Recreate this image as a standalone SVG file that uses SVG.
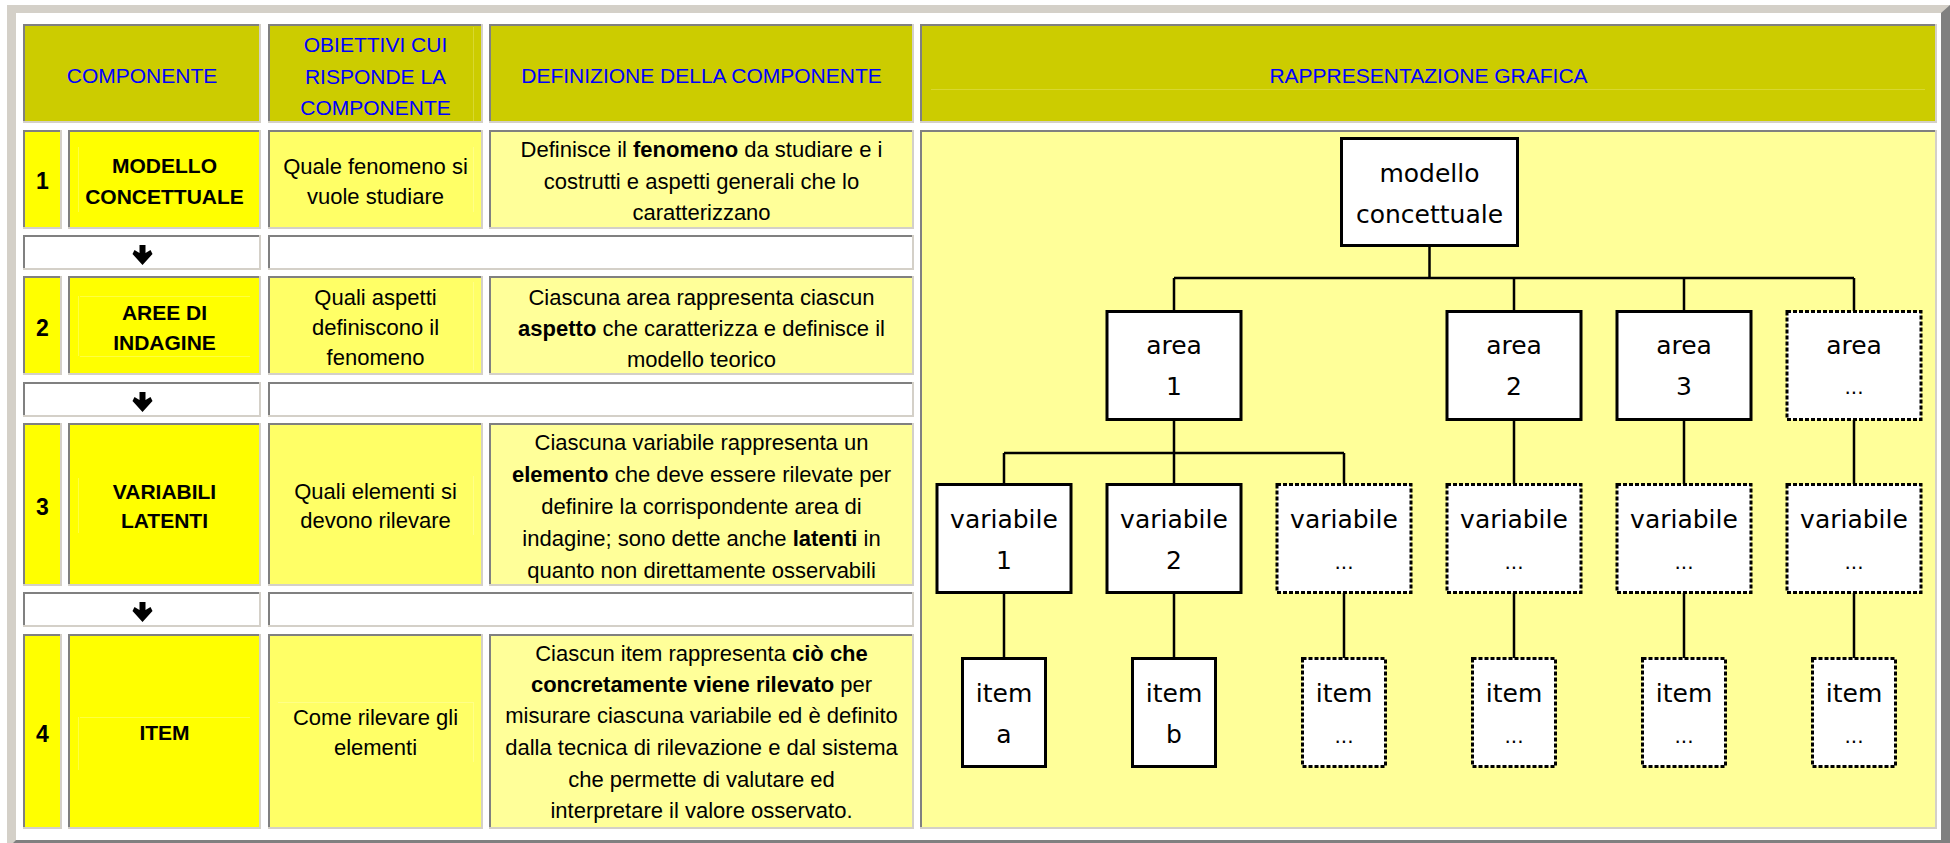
<svg xmlns="http://www.w3.org/2000/svg" width="1950" height="843" viewBox="0 0 1950 843">
  <defs>
    <style>
      .hd { font-family: "Liberation Sans", Arial, sans-serif; font-size: 21px; fill: #0000ff; text-anchor: middle; }
      .lb { font-family: "Liberation Sans", Arial, sans-serif; font-size: 21px; font-weight: bold; fill: #000; text-anchor: middle; }
      .nb { font-family: "Liberation Sans", Arial, sans-serif; font-size: 23px; font-weight: bold; fill: #000; text-anchor: middle; }
      .tx { font-family: "Liberation Sans", Arial, sans-serif; font-size: 22px; fill: #000; text-anchor: middle; }
      .tr { font-family: "DejaVu Sans", "Liberation Sans", sans-serif; font-size: 25px; fill: #000; text-anchor: middle; }
      .el { font-family: "DejaVu Sans", "Liberation Sans", sans-serif; font-size: 20px; fill: #000; text-anchor: middle; }
      .dk { stroke: #808080; stroke-width: 2; fill: none; }
      .lt { stroke: #d4d0c8; stroke-width: 2; fill: none; }
      .box { fill: #ffffff; stroke: #000; stroke-width: 3; }
      .dot { fill: #ffffff; stroke: #000; stroke-width: 3; stroke-dasharray: 4 2; }
      .cn { stroke: #000; stroke-width: 2.5; fill: none; }
      .fh { stroke: #d8d830; stroke-width: 1; fill: none; }
      .fy { stroke: #ffff40; stroke-width: 1; fill: none; }
      .fo { stroke: #ffff88; stroke-width: 1; fill: none; }
      .ar { fill: #000; }
    </style>
  </defs>

  <!-- outer raised frame -->
  <rect x="0" y="0" width="1950" height="843" fill="#ffffff"/>
  <rect x="7" y="5" width="1943" height="846" fill="#808080"/>
  <polygon points="7,5 1950,5 1941,13 16,13 16,840 7,849" fill="#d4d0c8"/>
  <rect x="16" y="13" width="1925" height="827" fill="#ffffff"/>

  <!-- header row -->
  <g id="header">
    <rect x="23" y="24" width="238" height="99" fill="#cccc00"/>
    <rect x="268" y="24" width="215" height="99" fill="#cccc00"/>
    <rect x="489" y="24" width="425" height="99" fill="#cccc00"/>
    <rect x="920" y="24" width="1017" height="99" fill="#cccc00"/>
    <path class="fh" d="M473.5,27 V121"/>
    <path class="fh" d="M931,89.5 H1925"/>
    <path class="dk" d="M24,123 V25 H261 M269,123 V25 H483 M490,123 V25 H914 M921,123 V25 H1937"/>
    <path class="lt" d="M260,24 V122 H23 M482,24 V122 H268 M913,24 V122 H489 M1936,24 V122 H920"/>
    <text class="hd" x="142" y="83">COMPONENTE</text>
    <text class="hd" x="375.5" y="52">OBIETTIVI CUI</text>
    <text class="hd" x="375.5" y="83.5">RISPONDE LA</text>
    <text class="hd" x="375.5" y="115">COMPONENTE</text>
    <text class="hd" x="701.5" y="83">DEFINIZIONE DELLA COMPONENTE</text>
    <text class="hd" x="1428.5" y="83">RAPPRESENTAZIONE GRAFICA</text>
  </g>

  <!-- row 1: modello concettuale -->
  <g id="row-1">
    <rect x="23" y="130" width="39" height="99" fill="#ffff00"/>
    <rect x="68" y="130" width="193" height="99" fill="#ffff00"/>
    <rect x="268" y="130" width="215" height="99" fill="#ffff66"/>
    <rect x="489" y="130" width="425" height="99" fill="#ffff99"/>
    <path class="fy" d="M78.5,147 V212"/>
    <path class="fo" d="M473.5,147 V212"/>
    <path class="dk" d="M24,229 V131 H62 M69,229 V131 H261 M269,229 V131 H483 M490,229 V131 H914"/>
    <path class="lt" d="M61,130 V228 H23 M260,130 V228 H68 M482,130 V228 H268 M913,130 V228 H489"/>
    <text class="nb" x="42.5" y="189">1</text>
    <text class="lb" x="164.5" y="173">MODELLO</text>
    <text class="lb" x="164.5" y="204">CONCETTUALE</text>
    <text class="tx" x="375.5" y="174">Quale fenomeno si</text>
    <text class="tx" x="375.5" y="204">vuole studiare</text>
    <text class="tx" x="701.5" y="157">Definisce il <tspan font-weight="bold">fenomeno</tspan> da studiare e i</text>
    <text class="tx" x="701.5" y="188.5">costrutti e aspetti generali che lo</text>
    <text class="tx" x="701.5" y="220">caratterizzano</text>
  </g>

  <!-- step arrow 1 -->
  <g id="step-1">
    <rect x="23" y="235" width="238" height="35" fill="#ffffff"/>
    <rect x="268" y="235" width="646" height="35" fill="#ffffff"/>
    <path class="dk" d="M24,270 V236 H261 M269,270 V236 H914"/>
    <path class="lt" d="M260,235 V269 H23 M913,235 V269 H268"/>
    <polygon class="ar" transform="translate(142.5,245)" points="-3,0 3,0 3,8 8,5 10,9 0,20 -10,9 -8,5 -3,8"/>
  </g>

  <!-- row 2: aree di indagine -->
  <g id="row-2">
    <rect x="23" y="276" width="39" height="99" fill="#ffff00"/>
    <rect x="68" y="276" width="193" height="99" fill="#ffff00"/>
    <rect x="268" y="276" width="215" height="99" fill="#ffff66"/>
    <rect x="489" y="276" width="425" height="99" fill="#ffff99"/>
    <path class="fy" d="M78.5,296 V356 M80,296.5 H250 M80,356.5 H250"/>
    <path class="fo" d="M473.5,282 V370"/>
    <path class="dk" d="M24,375 V277 H62 M69,375 V277 H261 M269,375 V277 H483 M490,375 V277 H914"/>
    <path class="lt" d="M61,276 V374 H23 M260,276 V374 H68 M482,276 V374 H268 M913,276 V374 H489"/>
    <text class="nb" x="42.5" y="336">2</text>
    <text class="lb" x="164.5" y="320">AREE DI</text>
    <text class="lb" x="164.5" y="350">INDAGINE</text>
    <text class="tx" x="375.5" y="305">Quali aspetti</text>
    <text class="tx" x="375.5" y="335">definiscono il</text>
    <text class="tx" x="375.5" y="365">fenomeno</text>
    <text class="tx" x="701.5" y="305">Ciascuna area rappresenta ciascun</text>
    <text class="tx" x="701.5" y="336"><tspan font-weight="bold">aspetto</tspan> che caratterizza e definisce il</text>
    <text class="tx" x="701.5" y="367">modello teorico</text>
  </g>

  <!-- step arrow 2 -->
  <g id="step-2">
    <rect x="23" y="382" width="238" height="35" fill="#ffffff"/>
    <rect x="268" y="382" width="646" height="35" fill="#ffffff"/>
    <path class="dk" d="M24,417 V383 H261 M269,417 V383 H914"/>
    <path class="lt" d="M260,382 V416 H23 M913,382 V416 H268"/>
    <polygon class="ar" transform="translate(142.5,392)" points="-3,0 3,0 3,8 8,5 10,9 0,20 -10,9 -8,5 -3,8"/>
  </g>

  <!-- row 3: variabili latenti -->
  <g id="row-3">
    <rect x="23" y="423" width="39" height="163" fill="#ffff00"/>
    <rect x="68" y="423" width="193" height="163" fill="#ffff00"/>
    <rect x="268" y="423" width="215" height="163" fill="#ffff66"/>
    <rect x="489" y="423" width="425" height="163" fill="#ffff99"/>
    <path class="fy" d="M78.5,478 V533"/>
    <path class="fo" d="M473.5,476 V535"/>
    <path class="dk" d="M24,586 V424 H62 M69,586 V424 H261 M269,586 V424 H483 M490,586 V424 H914"/>
    <path class="lt" d="M61,423 V585 H23 M260,423 V585 H68 M482,423 V585 H268 M913,423 V585 H489"/>
    <text class="nb" x="42.5" y="515">3</text>
    <text class="lb" x="164.5" y="499">VARIABILI</text>
    <text class="lb" x="164.5" y="528">LATENTI</text>
    <text class="tx" x="375.5" y="499">Quali elementi si</text>
    <text class="tx" x="375.5" y="528">devono rilevare</text>
    <text class="tx" x="701.5" y="450">Ciascuna variabile rappresenta un</text>
    <text class="tx" x="701.5" y="482"><tspan font-weight="bold">elemento</tspan> che deve essere rilevate per</text>
    <text class="tx" x="701.5" y="514">definire la corrispondente area di</text>
    <text class="tx" x="701.5" y="546">indagine; sono dette anche <tspan font-weight="bold">latenti</tspan> in</text>
    <text class="tx" x="701.5" y="578">quanto non direttamente osservabili</text>
  </g>

  <!-- step arrow 3 -->
  <g id="step-3">
    <rect x="23" y="592" width="238" height="35" fill="#ffffff"/>
    <rect x="268" y="592" width="646" height="35" fill="#ffffff"/>
    <path class="dk" d="M24,627 V593 H261 M269,627 V593 H914"/>
    <path class="lt" d="M260,592 V626 H23 M913,592 V626 H268"/>
    <polygon class="ar" transform="translate(142.5,602)" points="-3,0 3,0 3,8 8,5 10,9 0,20 -10,9 -8,5 -3,8"/>
  </g>

  <!-- row 4: item -->
  <g id="row-4">
    <rect x="23" y="634" width="39" height="195" fill="#ffff00"/>
    <rect x="68" y="634" width="193" height="195" fill="#ffff00"/>
    <rect x="268" y="634" width="215" height="195" fill="#ffff66"/>
    <rect x="489" y="634" width="425" height="195" fill="#ffff99"/>
    <path class="fy" d="M78.5,717 V770 M80,717.5 H250"/>
    <path class="fo" d="M473.5,702 V762 M278,702.5 H473"/>
    <path class="dk" d="M24,829 V635 H62 M69,829 V635 H261 M269,829 V635 H483 M490,829 V635 H914"/>
    <path class="lt" d="M61,634 V828 H23 M260,634 V828 H68 M482,634 V828 H268 M913,634 V828 H489"/>
    <text class="nb" x="42.5" y="742">4</text>
    <text class="lb" x="164.5" y="740">ITEM</text>
    <text class="tx" x="375.5" y="725">Come rilevare gli</text>
    <text class="tx" x="375.5" y="755">elementi</text>
    <text class="tx" x="701.5" y="661">Ciascun item rappresenta <tspan font-weight="bold">ciò che</tspan></text>
    <text class="tx" x="701.5" y="692"><tspan font-weight="bold">concretamente viene rilevato</tspan> per</text>
    <text class="tx" x="701.5" y="723">misurare ciascuna variabile ed è definito</text>
    <text class="tx" x="701.5" y="755">dalla tecnica di rilevazione e dal sistema</text>
    <text class="tx" x="701.5" y="787">che permette di valutare ed</text>
    <text class="tx" x="701.5" y="818">interpretare il valore osservato.</text>
  </g>

  <!-- graphic panel -->
  <g id="panel">
    <rect x="920" y="130" width="1017" height="699" fill="#ffff99"/>
    <path class="dk" d="M921,829 V131 H1937"/>
    <path class="lt" d="M1936,130 V828 H920"/>
  </g>

  <!-- tree connectors -->
  <g id="connectors">
    <path class="cn" d="M1429.5,246 V278 M1174,278 H1854 M1174,278 V311 M1514,278 V311 M1684,278 V311 M1854,278 V311"/>
    <path class="cn" d="M1174,420 V453 M1004,453 H1344 M1004,453 V484 M1174,453 V484 M1344,453 V484"/>
    <path class="cn" d="M1514,420 V484 M1684,420 V484 M1854,420 V484"/>
    <path class="cn" d="M1004,593 V658 M1174,593 V658 M1344,593 V658 M1514,593 V658 M1684,593 V658 M1854,593 V658"/>
  </g>

  <!-- tree nodes -->
  <g id="node-modello">
    <rect class="box" x="1341.5" y="138.5" width="176" height="107"/>
    <text class="tr" x="1429.5" y="182">modello</text>
    <text class="tr" x="1429.5" y="223">concettuale</text>
  </g>

  <g id="node-area-1">
    <rect class="box" x="1107" y="311.5" width="134" height="108"/>
    <text class="tr" x="1174" y="354">area</text>
    <text class="tr" x="1174" y="395">1</text>
  </g>
  <g id="node-area-2">
    <rect class="box" x="1447" y="311.5" width="134" height="108"/>
    <text class="tr" x="1514" y="354">area</text>
    <text class="tr" x="1514" y="395">2</text>
  </g>
  <g id="node-area-3">
    <rect class="box" x="1617" y="311.5" width="134" height="108"/>
    <text class="tr" x="1684" y="354">area</text>
    <text class="tr" x="1684" y="395">3</text>
  </g>
  <g id="node-area-n">
    <rect class="dot" x="1787" y="311.5" width="134" height="108"/>
    <text class="tr" x="1854" y="354">area</text>
    <text class="el" x="1854" y="394">...</text>
  </g>

  <g id="node-variabile-1">
    <rect class="box" x="937" y="484.5" width="134" height="108"/>
    <text class="tr" x="1004" y="528">variabile</text>
    <text class="tr" x="1004" y="569">1</text>
  </g>
  <g id="node-variabile-2">
    <rect class="box" x="1107" y="484.5" width="134" height="108"/>
    <text class="tr" x="1174" y="528">variabile</text>
    <text class="tr" x="1174" y="569">2</text>
  </g>
  <g id="node-variabile-1n">
    <rect class="dot" x="1277" y="484.5" width="134" height="108"/>
    <text class="tr" x="1344" y="528">variabile</text>
    <text class="el" x="1344" y="569">...</text>
  </g>
  <g id="node-variabile-2n">
    <rect class="dot" x="1447" y="484.5" width="134" height="108"/>
    <text class="tr" x="1514" y="528">variabile</text>
    <text class="el" x="1514" y="569">...</text>
  </g>
  <g id="node-variabile-3n">
    <rect class="dot" x="1617" y="484.5" width="134" height="108"/>
    <text class="tr" x="1684" y="528">variabile</text>
    <text class="el" x="1684" y="569">...</text>
  </g>
  <g id="node-variabile-nn">
    <rect class="dot" x="1787" y="484.5" width="134" height="108"/>
    <text class="tr" x="1854" y="528">variabile</text>
    <text class="el" x="1854" y="569">...</text>
  </g>

  <g id="node-item-a">
    <rect class="box" x="962.5" y="658.5" width="83" height="108"/>
    <text class="tr" x="1004" y="702">item</text>
    <text class="tr" x="1004" y="743">a</text>
  </g>
  <g id="node-item-b">
    <rect class="box" x="1132.5" y="658.5" width="83" height="108"/>
    <text class="tr" x="1174" y="702">item</text>
    <text class="tr" x="1174" y="743">b</text>
  </g>
  <g id="node-item-1n">
    <rect class="dot" x="1302.5" y="658.5" width="83" height="108"/>
    <text class="tr" x="1344" y="702">item</text>
    <text class="el" x="1344" y="743">...</text>
  </g>
  <g id="node-item-2n">
    <rect class="dot" x="1472.5" y="658.5" width="83" height="108"/>
    <text class="tr" x="1514" y="702">item</text>
    <text class="el" x="1514" y="743">...</text>
  </g>
  <g id="node-item-3n">
    <rect class="dot" x="1642.5" y="658.5" width="83" height="108"/>
    <text class="tr" x="1684" y="702">item</text>
    <text class="el" x="1684" y="743">...</text>
  </g>
  <g id="node-item-nn">
    <rect class="dot" x="1812.5" y="658.5" width="83" height="108"/>
    <text class="tr" x="1854" y="702">item</text>
    <text class="el" x="1854" y="743">...</text>
  </g>
</svg>
